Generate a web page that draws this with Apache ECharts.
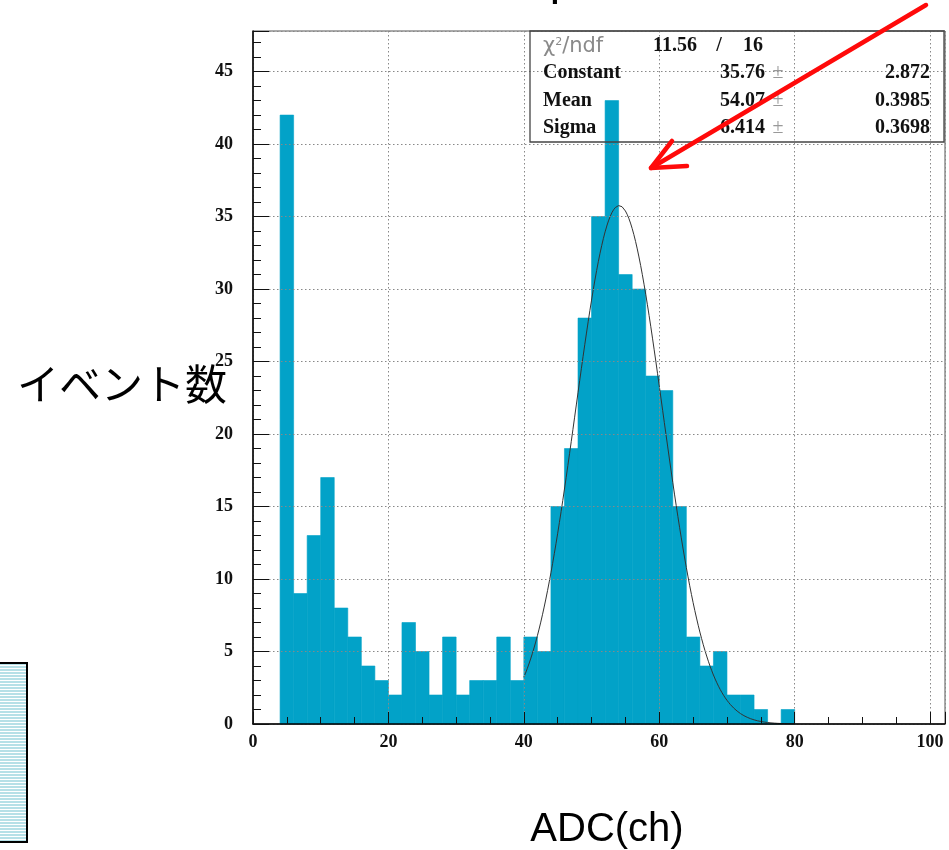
<!DOCTYPE html>
<html><head><meta charset="utf-8">
<script src="https://cdn.jsdelivr.net/npm/echarts@6/dist/echarts.min.js"></script>
<style>html,body{margin:0;padding:0;background:#fff}#c{width:949px;height:850px}</style>
</head><body><div id="c"></div>
<script>
// ---- data ----
const binLow = [4,6,8,10,12,14,16,18,20,22,24,26,28,30,32,34,36,38,40,42,44,46,48,50,52,54,56,58,60,62,64,66,68,70,72,74,76,78];
const binWidth = 2;
const counts = [42,9,13,17,8,6,4,3,2,7,5,2,6,2,3,3,6,3,6,5,15,19,28,35,43,31,30,24,23,15,6,4,5,2,2,1,0,1];
const xTickLabels = [0,20,40,60,80,100];
const yTickLabels = [0,5,10,15,20,25,30,35,40,45];
// fit result shown in the stats box (gaussian)
const fitConstant = 35.76, fitMean = 54.07, fitSigma = 6.414;
const fitRange = [40, 80];
const chi2 = '11.56', ndf = '16';
const statLabels = ['Constant','Mean','Sigma'];
const statValues = ['35.76','54.07','6.414'];
const statErrors = ['2.872','0.3985','0.3698'];

const barData = binLow.map((x, i) => [x, x + binWidth, counts[i]]);
const fitData = [];
for (let x = fitRange[0]; x <= fitRange[1] + 1e-9; x += 0.25) {
  fitData.push([x, fitConstant * Math.exp(-0.5 * Math.pow((x - fitMean) / fitSigma, 2))]);
}

const chart = echarts.init(document.getElementById('c'), null, {renderer: 'canvas'});
const serif = 'Liberation Serif, Times New Roman, serif';
const barColor = '#02A2C8';
const gridLine = {show: true, lineStyle: {color: '#888', type: [1.5, 2.5], width: 1}};

// stripe pattern for the cut-off box at bottom-left
const pc = document.createElement('canvas'); pc.width = 4; pc.height = 3;
const pctx = pc.getContext('2d');
pctx.fillStyle = '#ffffff'; pctx.fillRect(0,0,4,3);
pctx.fillStyle = '#b6e0e7'; pctx.fillRect(0,0,4,2);

const statRows = [73, 101, 128];
const graphics = [
  // stats box
  {type:'rect', z:20, shape:{x:530, y:31, width:414, height:111}, style:{fill:'transparent', stroke:'#444', lineWidth:1.3}},
  {type:'text', z:21, x:543, y:47, style:{text:'{a|χ}{s|2}{a|/ndf}', verticalAlign:'middle', rich:{a:{fontFamily:'DejaVu Sans', fontWeight:'normal', fontSize:21, fill:'#8a8a8a', verticalAlign:'middle'}, s:{fontFamily:'DejaVu Sans', fontSize:11, fill:'#8a8a8a', verticalAlign:'top', padding:[0,0,10,0]}}}},
  {type:'text', z:21, x:653, y:46, style:{text:chi2, font:'bold 20px ' + serif, fill:'#111', verticalAlign:'middle'}},
  {type:'text', z:21, x:719, y:46, style:{text:'/', font:'bold 20px ' + serif, fill:'#111', verticalAlign:'middle', align:'center'}},
  {type:'text', z:21, x:743, y:46, style:{text:ndf, font:'bold 20px ' + serif, fill:'#111', verticalAlign:'middle'}},
  // arrow
  {type:'polyline', z:30, shape:{points:[[926,5],[651,168]]}, style:{stroke:'#ff0a0a', lineWidth:4.5, lineCap:'round'}},
  {type:'polyline', z:30, shape:{points:[[672,141],[651,168],[687,166]]}, style:{stroke:'#ff0a0a', fill:null, lineWidth:4.5, lineCap:'round', lineJoin:'round'}},
  // axis titles
  {type:'text', z:10, x:122, y:384, style:{text:'イベント数', font:'42px "Noto Sans CJK JP", sans-serif', fill:'#000', align:'center', verticalAlign:'middle'}},
  {type:'text', z:10, x:607, y:830, style:{text:'ADC(ch)', font:'40px "Liberation Sans", Arial, sans-serif', fill:'#000', align:'center', verticalAlign:'middle'}},
  // partial element at the top and at bottom-left
  {type:'text', z:10, x:560, y:-25, style:{text:'p', font:'bold 30px "Liberation Sans", sans-serif', fill:'#000', align:'center', verticalAlign:'top'}},
  {type:'rect', z:10, shape:{x:-2, y:663, width:29, height:179}, style:{fill:{image:pc, repeat:'repeat'}, stroke:'#000', lineWidth:2}}
];
statLabels.forEach((lab, i) => {
  const y = statRows[i];
  graphics.push({type:'text', z:21, x:543, y:y, style:{text:lab, font:'bold 20px ' + serif, fill:'#111', verticalAlign:'middle'}});
  graphics.push({type:'text', z:21, x:765, y:y, style:{text:statValues[i], font:'bold 20px ' + serif, fill:'#111', verticalAlign:'middle', align:'right'}});
  graphics.push({type:'text', z:21, x:778, y:y, style:{text:'±', font:'20px ' + serif, fill:'#999', verticalAlign:'middle', align:'center'}});
  graphics.push({type:'text', z:21, x:930, y:y, style:{text:statErrors[i], font:'bold 20px ' + serif, fill:'#111', verticalAlign:'middle', align:'right'}});
});

const option = {
  animation: false,
  backgroundColor: '#fff',
  grid: {left: 253, right: 4, top: 31, bottom: 126, show: true, borderColor: '#555', borderWidth: 1, backgroundColor: 'transparent'},
  xAxis: [
    {type: 'value', min: 0, max: 102.2, interval: 20, position: 'bottom', z: 5,
     axisLine: {onZero: false, lineStyle: {color: '#000', width: 1.5}},
     axisTick: {inside: true, length: 12, lineStyle: {color: '#111'}},
     axisLabel: {margin: 9, fontFamily: serif, fontWeight: 'bold', fontSize: 18, color: '#111',
       formatter: v => xTickLabels.indexOf(Math.round(v * 1000) / 1000) >= 0 ? String(v) : ''},
     splitLine: gridLine},
    {type: 'value', min: 0, max: 102.2, interval: 5, position: 'bottom', z: 5,
     axisLine: {show: false, onZero: false}, axisTick: {inside: true, length: 7, lineStyle: {color: '#111'}},
     axisLabel: {show: false}, splitLine: {show: false}}
  ],
  yAxis: [
    {type: 'value', min: 0, max: 47.8, interval: 5, position: 'left', z: 5,
     axisLine: {show: true, onZero: false, lineStyle: {color: '#000', width: 1.5}},
     axisTick: {show: true, inside: true, length: 16, lineStyle: {color: '#111'}},
     axisLabel: {margin: 20, fontFamily: serif, fontWeight: 'bold', fontSize: 18, color: '#111',
       formatter: v => yTickLabels.indexOf(Math.round(v * 1000) / 1000) >= 0 ? String(v) : ''},
     splitLine: gridLine},
    {type: 'value', min: 0, max: 47.8, interval: 1, position: 'left', z: 5,
     axisLine: {show: false, onZero: false}, axisTick: {show: true, inside: true, length: 8, lineStyle: {color: '#111'}},
     axisLabel: {show: false}, splitLine: {show: false}}
  ],
  series: [
    {type: 'custom', xAxisIndex: 0, yAxisIndex: 0, z: 2, data: barData,
     renderItem: (params, api) => {
       const p0 = api.coord([api.value(0), api.value(2)]);
       const p1 = api.coord([api.value(1), 0]);
       return {type: 'rect', shape: {x: p0[0], y: p0[1], width: p1[0] - p0[0], height: p1[1] - p0[1]},
               style: {fill: barColor, stroke: barColor, lineWidth: 0.6}};
     }},
    {type: 'line', xAxisIndex: 0, yAxisIndex: 0, z: 3, data: fitData, showSymbol: false, symbol: 'none', smooth: false,
     lineStyle: {color: '#333', width: 1}}
  ],
  graphic: graphics
};
chart.setOption(option);
</script></body></html>
